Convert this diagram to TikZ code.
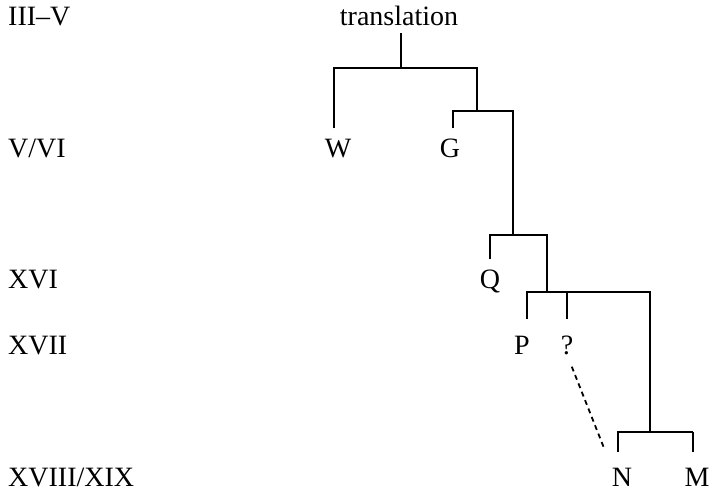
\documentclass[tikz,border=0pt]{standalone}
\usepackage{fontspec}
\setmainfont{Liberation Serif}
\begin{document}
\begin{tikzpicture}[x=1pt,y=-1pt,
  lbl/.style={anchor=base,inner sep=0pt,font=\fontsize{28}{32}\selectfont},
  era/.style={lbl,anchor=base west},
  tree/.style={line width=2pt},
  dotline/.style={line width=1.8pt,dash pattern=on 5pt off 4pt}]
\useasboundingbox (0,0) rectangle (709,496);
% era labels
\node[era] (e1) at (8,25)  {III–V};
\node[era] (e2) at (8,157) {V/VI};
\node[era] (e3) at (8,288) {XVI};
\node[era] (e4) at (8,354) {XVII};
\node[era] (e5) at (8,486) {XVIII/XIX};
% witnesses
\node[lbl] (tr) at (399,25)  {translation};
\node[lbl] (W)  at (338,157) {W};
\node[lbl] (G)  at (450,157) {G};
\node[lbl] (Q)  at (490,288) {Q};
\node[lbl] (P)  at (522,354) {P};
\node[lbl] (U)  at (567,354) {?};
\node[lbl] (N)  at (622,486) {N};
\node[lbl] (M)  at (697,486) {M};
% junction corners
\coordinate (k0) at (401,68);
\coordinate (k1) at (477,68);
\coordinate (k2) at (513,111);
\coordinate (k3) at (547,235);
\coordinate (k4) at (650,292);
\coordinate (k5) at (693,432);
% stem
\draw[tree,shorten <=8pt] (tr.south -| k0) -- (k0);
% main spine
\draw[tree,shorten <=10pt] ([xshift=-4pt]W.north) |- (k1) |- (k2) |- (k3) |- (k4) |- (k5);
\draw[tree,shorten >=15pt] (k5) -- (k5 |- M.north);
% side branches
\draw[tree,shorten <=10pt] ([xshift=3pt]G.north) |- (k2);
\draw[tree,shorten <=10pt] (Q.north) |- (k3);
\draw[tree,shorten <=16pt] ([xshift=5pt]P.north) |- (k4);
\draw[tree,shorten <=16pt] (U.north) -- (U.north |- k4);
\draw[tree,shorten <=15pt] ([xshift=-4pt]N.north) |- (k5);
% uncertain link
\draw[dotline,shorten <=13pt,shorten >=20pt] (U.south) -- (N.north west);
\end{tikzpicture}
\end{document}
